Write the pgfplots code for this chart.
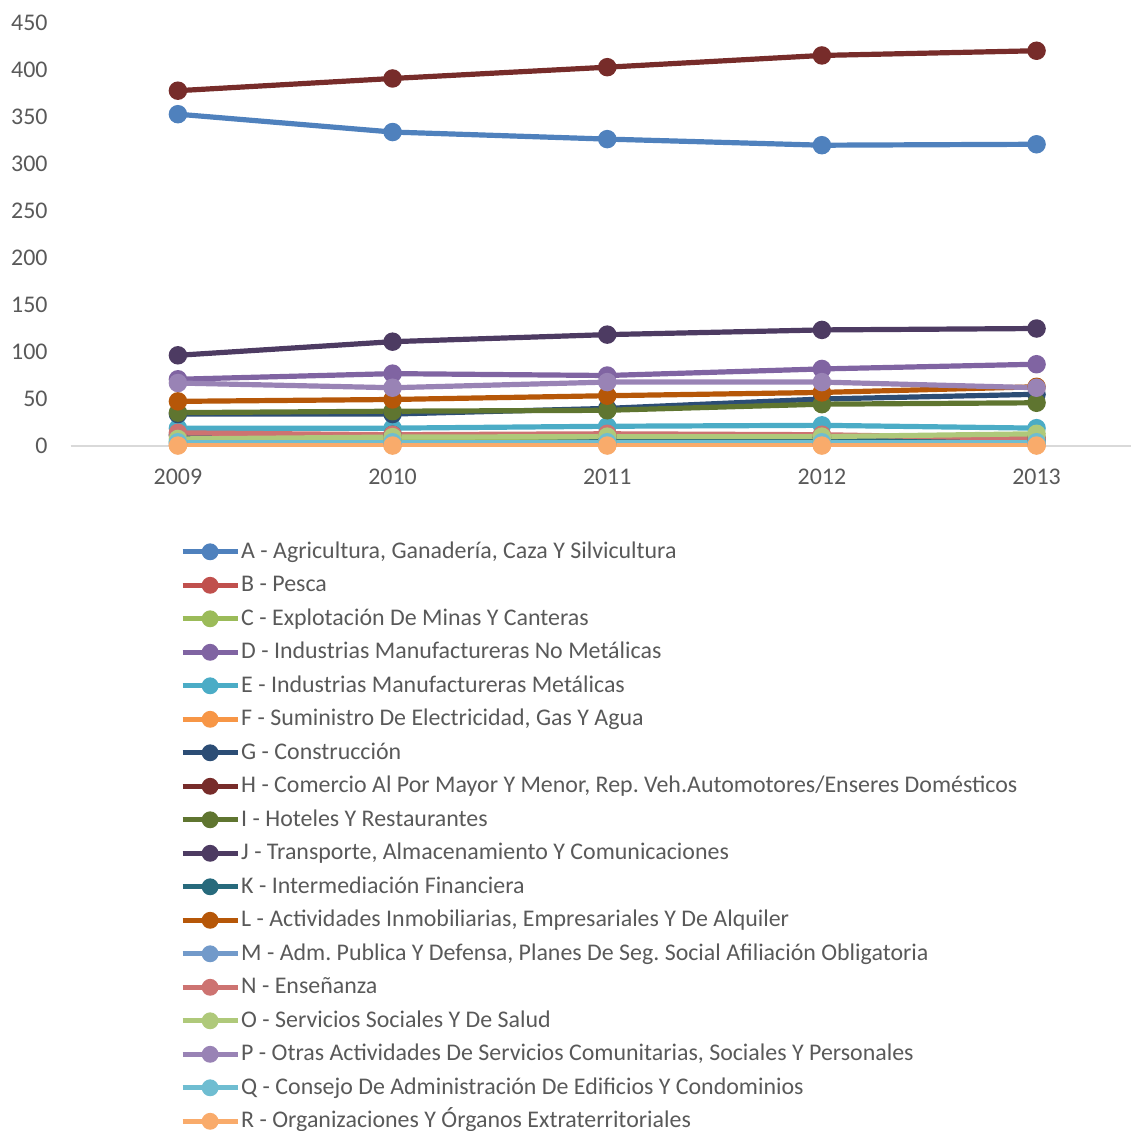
\documentclass[border=0pt]{standalone}
\usepackage{pgfplots}
\pgfplotsset{compat=1.18}
\usepackage{fontspec}
\setmainfont{Carlito}
\frenchspacing
\definecolor{cA}{HTML}{4F81BD}
\definecolor{cB}{HTML}{C0504D}
\definecolor{cC}{HTML}{9BBB59}
\definecolor{cD}{HTML}{8064A2}
\definecolor{cE}{HTML}{4BACC6}
\definecolor{cF}{HTML}{F79646}
\definecolor{cG}{HTML}{2C4D75}
\definecolor{cH}{HTML}{772C2A}
\definecolor{cI}{HTML}{5F7530}
\definecolor{cJ}{HTML}{4D3B62}
\definecolor{cK}{HTML}{276A7C}
\definecolor{cL}{HTML}{B65708}
\definecolor{cM}{HTML}{729ACA}
\definecolor{cN}{HTML}{CD7371}
\definecolor{cO}{HTML}{AFC97A}
\definecolor{cP}{HTML}{9983B5}
\definecolor{cQ}{HTML}{6FBDD1}
\definecolor{cR}{HTML}{F9AB6B}
\definecolor{txt}{HTML}{595959}
\definecolor{axl}{HTML}{D9D9D9}
\begin{document}
\begin{tikzpicture}
\useasboundingbox (-35.3bp,-342.5bp) rectangle (530.2bp,223bp);
\begin{axis}[
  at={(0,0)}, anchor=south west,
  scale only axis, width=530.2bp, height=211.5bp,
  xmin=2008.5, xmax=2013.44, ymin=0, ymax=450,
  xtick={2009,2010,2011,2012,2013},
  xticklabels={2009,2010,2011,2012,2013},
  ytick={0,50,...,450},
  axis lines*=left,
  x axis line style={draw=axl, line width=1bp, -},
  y axis line style={draw=none},
  tick style={draw=none},
  major tick length=0pt,
  /pgf/number format/assume math mode=true,
  ticklabel style={font=\fontsize{12}{14}\selectfont, text=txt},
  xticklabel style={yshift=-8bp},
  yticklabel style={xshift=-8bp},
  every axis plot/.append style={line width=2.6bp, mark=*, mark size=3.3bp},
  every mark/.append style={line width=0.8bp},
  legend style={at={(0.1032,-0.2274)}, anchor=north west, draw=none, fill=none,
     inner sep=0pt, outer sep=0pt, row sep=4.75bp, column sep=0.5bp,
     nodes={inner sep=0pt, outer sep=0pt, text height=8bp, text depth=4bp, font=\fontsize{12}{14}\selectfont, text=txt}},
  legend cell align=left,
  legend image code/.code={\draw[#1, yshift=1.2bp, mark size=2.9bp, mark repeat=2, mark phase=2] plot coordinates {(0bp,0bp) (13.75bp,0bp) (27.5bp,0bp)};},
]
\addplot[color=cA, mark options={fill=cA}] coordinates {(2009,353) (2010,334) (2011,326.5) (2012,320) (2013,321)};
\addlegendentry{A - Agricultura, Ganadería, Caza Y Silvicultura}
\addplot[color=cB, mark options={fill=cB}] coordinates {(2009,11) (2010,10) (2011,11) (2012,10) (2013,6)};
\addlegendentry{B - Pesca}
\addplot[color=cC, mark options={fill=cC}] coordinates {(2009,5) (2010,6) (2011,6) (2012,6) (2013,7)};
\addlegendentry{C - Explotación De Minas Y Canteras}
\addplot[color=cD, mark options={fill=cD}] coordinates {(2009,71) (2010,77) (2011,75) (2012,82) (2013,87)};
\addlegendentry{D - Industrias Manufactureras No Metálicas}
\addplot[color=cE, mark options={fill=cE}] coordinates {(2009,19) (2010,19) (2011,21) (2012,22) (2013,19)};
\addlegendentry{E - Industrias Manufactureras Metálicas}
\addplot[color=cF, mark options={fill=cF}] coordinates {(2009,1) (2010,1) (2011,1) (2012,1) (2013,1)};
\addlegendentry{F - Suministro De Electricidad, Gas Y Agua}
\addplot[color=cG, mark options={fill=cG}] coordinates {(2009,34) (2010,34) (2011,40) (2012,50) (2013,55)};
\addlegendentry{G - Construcción}
\addplot[color=cH, mark options={fill=cH}] coordinates {(2009,378) (2010,391) (2011,403) (2012,415.5) (2013,420.5)};
\addlegendentry{H - Comercio Al Por Mayor Y Menor, Rep. Veh.Automotores/Enseres Domésticos}
\addplot[color=cI, mark options={fill=cI}] coordinates {(2009,35.5) (2010,37) (2011,38) (2012,44.5) (2013,46)};
\addlegendentry{I - Hoteles Y Restaurantes}
\addplot[color=cJ, mark options={fill=cJ}] coordinates {(2009,96.5) (2010,111) (2011,118.5) (2012,123.5) (2013,125)};
\addlegendentry{J - Transporte, Almacenamiento Y Comunicaciones}
\addplot[color=cK, mark options={fill=cK}] coordinates {(2009,12) (2010,12) (2011,9) (2012,9) (2013,8)};
\addlegendentry{K - Intermediación Financiera}
\addplot[color=cL, mark options={fill=cL}] coordinates {(2009,47.5) (2010,49.5) (2011,53.5) (2012,57) (2013,63)};
\addlegendentry{L - Actividades Inmobiliarias, Empresariales Y De Alquiler}
\addplot[color=cM, mark options={fill=cM}] coordinates {(2009,3) (2010,3) (2011,3) (2012,3) (2013,3)};
\addlegendentry{M - Adm. Publica Y Defensa, Planes De Seg. Social Afiliación Obligatoria}
\addplot[color=cN, mark options={fill=cN}] coordinates {(2009,14) (2010,12) (2011,13) (2012,12) (2013,8)};
\addlegendentry{N - Enseñanza}
\addplot[color=cO, mark options={fill=cO}] coordinates {(2009,7.5) (2010,9.5) (2011,10) (2012,10) (2013,13)};
\addlegendentry{O - Servicios Sociales Y De Salud}
\addplot[color=cP, mark options={fill=cP}] coordinates {(2009,67) (2010,62) (2011,68) (2012,68) (2013,62)};
\addlegendentry{P - Otras Actividades De Servicios Comunitarias, Sociales Y Personales}
\addplot[color=cQ, mark options={fill=cQ}] coordinates {(2009,4) (2010,4) (2011,4) (2012,4) (2013,4)};
\addlegendentry{Q - Consejo De Administración De Edificios Y Condominios}
\addplot[color=cR, mark options={fill=cR}] coordinates {(2009,0.5) (2010,0.5) (2011,0.5) (2012,0.5) (2013,0.5)};
\addlegendentry{R - Organizaciones Y Órganos Extraterritoriales}
\end{axis}
\end{tikzpicture}
\end{document}
